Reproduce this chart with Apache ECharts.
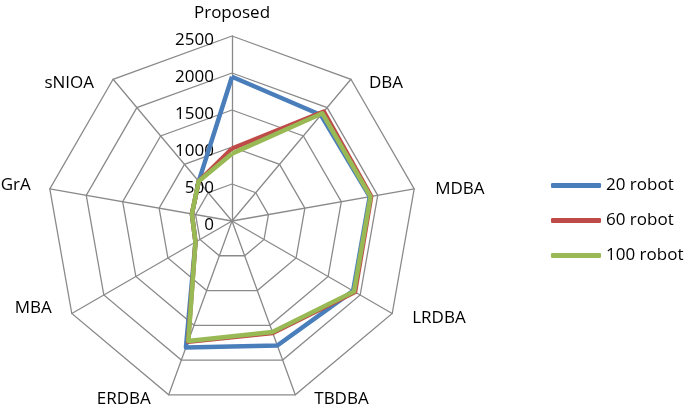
<!DOCTYPE html>
<html><head><meta charset="utf-8">
<script src="https://cdn.jsdelivr.net/npm/echarts@6/dist/echarts.min.js"></script>
<style>html,body{margin:0;padding:0;background:#fff}#c{width:685px;height:411px}</style>
</head><body><div id="c"></div>
<script>
// Indicators in clockwise order starting from the top
const indicators = ['Proposed','DBA','MDBA','LRDBA','TBDBA','ERDBA','MBA','GrA','sNIOA'];
const maxValue = 2500;
const tickLabels = ['0','500','1000','1500','2000','2500'];
const seriesNames = ['20 robot','60 robot','100 robot'];
const robot20  = [1950, 1870, 1890, 1890, 1790, 1820, 570, 550, 700];
const robot60  = [980, 1930, 1910, 1920, 1610, 1735, 570, 550, 700];
const robot100 = [910, 1900, 1900, 1905, 1595, 1725, 570, 550, 700];
const colors = ['#4a7ebb','#be4b48','#98b954'];

// label placement (style only): [align, verticalAlign, lineHeight, padding]
const nameStyle = {
  Proposed: ['center', 'bottom', null, [0, 0, 14, 0]],
  DBA:      ['left', 'top', 7, [0, 0, 0, 18]],
  MDBA:     ['left', 'middle', null, [0, 0, 0, 21]],
  LRDBA:    ['left', 'top', 9, [0, 0, 0, 20]],
  TBDBA:    ['left', 'top', 8, [0, 0, 0, 19]],
  ERDBA:    ['right', 'top', 8, [0, 18, 0, 0]],
  MBA:      ['right', 'bottom', 10, [0, 20, 0, 0]],
  GrA:      ['right', 'bottom', 8, [0, 19, 0, 0]],
  sNIOA:    ['right', 'top', 8, [0, 19, 0, 0]]
};

// ECharts places indicators counter-clockwise; reorder to get clockwise layout
const order = [0].concat(indicators.map((_, i) => i).slice(1).reverse());
const reorder = arr => order.map(i => arr[i]);

const font = 'Open Sans';
const fs = 17;
const chart = echarts.init(document.getElementById('c'));
const ind = reorder(indicators).map((n, k) => {
  const s = nameStyle[n];
  const nts = {align: s[0], verticalAlign: s[1], padding: s[3]};
  if (s[2] != null) nts.lineHeight = s[2];
  const o = {name: n, max: maxValue, min: 0, nameGap: 0, nameTextStyle: nts};
  if (k === 0) o.axisLabel = {show: true};
  return o;
});
chart.setOption({
  animation: false,
  legend: {
    orient: 'vertical', left: 546, top: 172, itemWidth: 50, itemHeight: 5, itemGap: 18,
    icon: 'roundRect',
    textStyle: {fontFamily: font, fontSize: fs, color: '#000'},
    data: seriesNames
  },
  radar: {
    center: [232, 221], radius: 185, startAngle: 90, splitNumber: 5, shape: 'polygon',
    nameGap: 0,
    axisName: {color: '#000', fontFamily: font, fontSize: fs},
    axisLine: {lineStyle: {color: '#8a8a8a', width: 1.3}},
    splitLine: {lineStyle: {color: '#8a8a8a', width: 1.3}},
    splitArea: {show: false},
    axisTick: {show: false},
    axisLabel: {show: false, color: '#000', fontFamily: font, fontSize: fs, margin: 18,
      verticalAlign: 'top', lineHeight: 9,
      formatter: v => tickLabels[Math.round(v / 500)]},
    indicator: ind
  },
  series: [{
    type: 'radar', symbol: 'none',
    data: [robot20, robot60, robot100].map((d, i) => ({
      name: seriesNames[i], value: reorder(d),
      lineStyle: {color: colors[i], width: 4.5}, itemStyle: {color: colors[i]}
    }))
  }]
});
</script></body></html>
